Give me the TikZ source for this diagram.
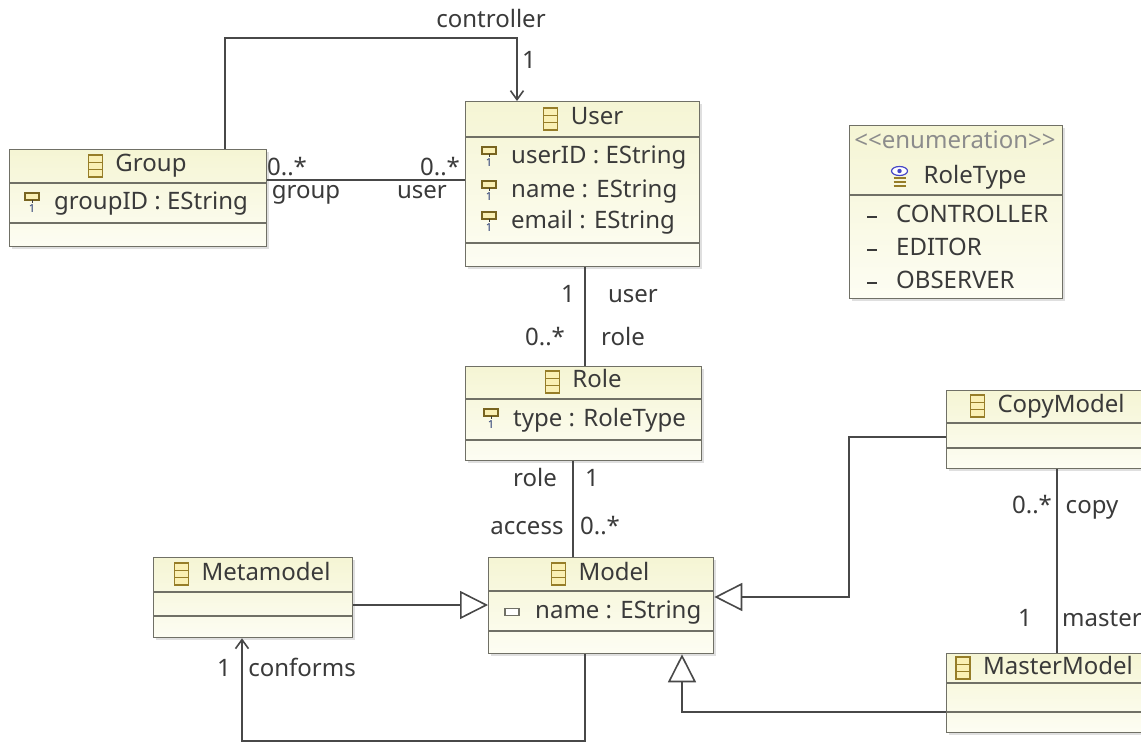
\documentclass[tikz,border=0pt]{standalone}
\usepackage{fontspec}
\setmainfont{Noto Sans}
\usetikzlibrary{positioning,arrows.meta,calc,shadows}
\definecolor{boxtop}{RGB}{245,245,212}
\definecolor{boxbot}{RGB}{253,253,243}
\definecolor{boxline}{RGB}{112,112,102}
\definecolor{wiregray}{RGB}{72,72,72}
\definecolor{inktext}{RGB}{58,58,58}
\definecolor{stereo}{RGB}{140,140,140}
\definecolor{iconolive}{RGB}{150,125,40}
\definecolor{iconfill}{RGB}{250,240,180}
\definecolor{idblue}{RGB}{30,50,110}
\definecolor{eyeblue}{RGB}{70,70,200}

\begin{document}
\begin{tikzpicture}[x=1pt, y=-1pt, font=\fontsize{24}{28}\selectfont]
        \tikzset{
          classbox/.style={draw=boxline, line width=1.3pt, top color=boxtop, bottom color=boxbot,
                           anchor=north west, inner sep=0pt,
                           drop shadow={shadow xshift=2.5pt, shadow yshift=-2.5pt, fill=black!35, opacity=0.35}},
          divider/.style={draw=boxline, line width=1.1pt},
          wire/.style={draw=wiregray, line width=1.8pt},
          headtext/.style={text=inktext, inner sep=0pt, text height=17pt, text depth=5pt},
          attrtext/.style={headtext, anchor=west},
          lbl/.style={headtext},
          openhead/.style={-{Straight Barb[length=9pt, width=13pt, line width=1.6pt]}},
          inherits/.style={-{Triangle[length=28pt, width=28pt, fill=white, line width=1.6pt]}},
          classicon/.pic={
            \draw[draw=iconolive, fill=iconfill, line width=1.3pt] (-7,-11) rectangle (7,11);
            \draw[draw=iconolive, line width=1.3pt] (-7,-3.7) -- (7,-3.7) (-7,3.7) -- (7,3.7);
          },
          idicon/.pic={
            \draw[draw=iconolive!80!black, fill=iconfill, line width=1.1pt] (-7,-11) rectangle (7,-4);
            \draw[draw=inktext, line width=1pt] (0,-4) -- (0,-1);
            \node[text=idblue, inner sep=0pt, font=\fontsize{11}{11}\selectfont\bfseries] at (0,5) {1};
          },
          plainicon/.pic={
            \draw[draw=boxline, fill=white, line width=1.1pt] (-7,-3.5) rectangle (7,3.5);
          },
          literalicon/.pic={
            \draw[draw=inktext, line width=2.8pt] (-5,0) -- (5,0);
          },
          enumicon/.pic={
            \draw[draw=eyeblue, fill=white, line width=1.2pt] (0,-7) ellipse (8 and 4.5);
            \fill[eyeblue] (0,-7) circle (2.2);
            \draw[draw=iconolive, line width=1.4pt] (-6,0) -- (6,0) (-6,4) -- (6,4) (-6,8) -- (6,8);
          }
        }
        \useasboundingbox (0,0) rectangle (1141,743);
        \clip (0,0) rectangle (1141,743);
        \fill[white] (0,0) rectangle (1141,743);
        % Classes
        \node[classbox, minimum width=257pt, minimum height=97pt] (Group) at (9,149) {};
        \node[classbox, minimum width=234pt, minimum height=165pt] (User) at (465,101) {};
        \node[classbox, minimum width=213pt, minimum height=173pt] (RoleType) at (849,125) {};
        \node[classbox, minimum width=236pt, minimum height=94pt] (Role) at (465,366) {};
        \node[classbox, minimum width=225pt, minimum height=96pt] (Model) at (488,557) {};
        \node[classbox, minimum width=199pt, minimum height=80pt] (Metamodel) at (153,557) {};
        \node[classbox, minimum width=230pt, minimum height=78pt] (CopyModel) at (946,390) {};
        \node[classbox, minimum width=230pt, minimum height=79pt] (MasterModel) at (946,653) {};
        % Compartments
        \foreach \cls/\ya/\yb in {Group/183/223, User/137/243, Role/399/440, Model/591/631,
                                  Metamodel/592/616, CopyModel/423/448, MasterModel/683/712} {
          \draw[divider] (\cls.west |- 0,\ya) -- (\cls.east |- 0,\ya);
          \draw[divider] (\cls.west |- 0,\yb) -- (\cls.east |- 0,\yb);
        }
        \draw[divider] (RoleType.west |- 0,195) -- (RoleType.east |- 0,195);
        % Class names
        \foreach \cls/\cx/\cy in {Group/151/166, User/597/119, Role/597/382, Model/614/574,
                                  Metamodel/266/574, CopyModel/1061/406, MasterModel/1058/668} {
          \node[headtext] (\cls-name) at (\cx,\cy) {\cls};
          \pic at ([xshift=-20pt]\cls-name.west) {classicon};
        }
        % Attributes
        \foreach \cls/\ix/\ay/\txt in {Group/32/204/groupID : EString, User/489/158/userID : EString,
                                       User/489/192/name : EString, User/489/223/email : EString,
                                       Role/491/420/type : RoleType} {
          \pic at (\ix,\ay) {idicon};
          \node[attrtext] (\cls-\ay) at (\ix+22,\ay) {\txt};
        }
        \pic at (512,612) {plainicon};
        \node[attrtext] (Model-612) at (535,612) {name : EString};
        % Enumeration
        \node[headtext, text=stereo] (RoleType-stereo) at (955,143) {<{}<enumeration>{}>};
        \node[headtext] (RoleType-name) at (975,178) {RoleType};
        \pic at ([xshift=-24pt]RoleType-name.west) {enumicon};
        \foreach \lit/\ly in {CONTROLLER/217, EDITOR/250, OBSERVER/283} {
          \pic at (872,\ly) {literalicon};
          \node[attrtext] (\lit) at (896,\ly) {\lit};
        }
        % Associations
        \coordinate (ctrl-a) at (225,38);
        \coordinate (ctrl-b) at (517,38);
        \draw[wire, openhead] (Group.north -| ctrl-a) -- (ctrl-a) -- (ctrl-b) -- (User.north -| ctrl-b);
        \draw[wire] (Group.east |- 0,180) -- (User.west |- 0,180);
        \draw[wire] (User.south -| 585,0) -- (Role.north -| 585,0);
        \draw[wire] (Role.south -| 573,0) -- (Model.north -| 573,0);
        \draw[wire] (CopyModel.south -| 1057,0) -- (MasterModel.north -| 1057,0);
        \coordinate (conf-a) at (585,741);
        \coordinate (conf-b) at (242,741);
        \draw[wire, openhead] (Model.south -| conf-a) -- (conf-a) -- (conf-b) -- (Metamodel.south -| conf-b);
        % Generalizations
        \draw[wire, inherits] (Metamodel.east |- 0,605) -- (Model.west |- 0,605);
        \coordinate (copy-a) at (849,437);
        \coordinate (copy-b) at (849,597);
        \draw[wire, inherits] (CopyModel.west |- copy-a) -- (copy-a) -- (copy-b) -- (Model.east |- copy-b);
        \coordinate (master-a) at (682,712);
        \draw[wire, inherits] (MasterModel.west |- master-a) -- (master-a) -- (Model.south -| master-a);
        % Role and multiplicity labels
        \foreach \nm/\lx/\ly/\txt in {ctrl-role/491/22/controller, ctrl-mult/529/63/1,
                                      grp-mult/287/170/0..*, grp-role/306/193/group,
                                      usr-mult/440/170/0..*, usr-role/422/193/user,
                                      ur-mult/568/297/1, ur-role/633/297/user,
                                      ru-mult/545/340/0..*, ru-role/623/340/role,
                                      rm-role/535/480/role, rm-mult/592/480/1,
                                      ma-role/527/528/access, ma-mult/600/528/0..*,
                                      conf-mult/224/670/1, conf-role/302/670/conforms,
                                      cp-mult/1032/507/0..*, cp-role/1092/507/copy,
                                      ms-mult/1025/620/1} {
          \node[lbl] (\nm) at (\lx,\ly) {\txt};
        }
        \node[lbl, anchor=west] (ms-role) at (1062,620) {master};
      \end{tikzpicture}
\end{document}
